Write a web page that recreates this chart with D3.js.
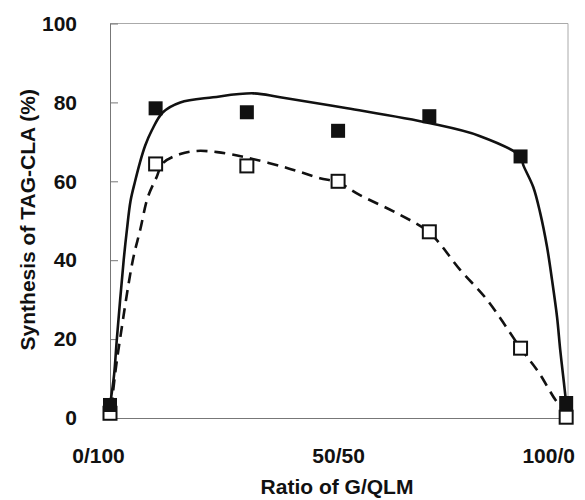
<!DOCTYPE html>
<html>
<head>
<meta charset="utf-8">
<script src="https://cdn.jsdelivr.net/npm/d3@7"></script>
<style>
  html, body { margin: 0; padding: 0; background: #fff; }
  text { font-family: "Liberation Sans", Arial, Helvetica, sans-serif; font-weight: bold; fill: #111; }
</style>
</head>
<body>
<svg id="chart" width="585" height="500"></svg>
<script>
// ---- data ----
const gPercent = [0, 10, 30, 50, 70, 90, 100];            // G share (%) in G/QLM
const filledValues = [3.3, 78.5, 77.5, 72.8, 76.5, 66.3, 3.8]; // filled squares
const openValues = [1.2, 64.4, 63.9, 60.0, 47.2, 17.7, 0.2];   // open squares

// smooth trend curves
const solidFitX = [0, 0.9, 1.5, 3.0, 3.7, 4.5, 5.5, 6.5, 7.7, 9.2, 11.6, 15.4, 22.6, 31.4, 37.3, 52, 70.2, 81, 90, 90.6, 92.8, 94.3, 95.8, 96.9, 98, 98.7, 99.5, 100];
const solidFitY = [3.3, 11, 20, 40, 47.6, 55, 60, 64.5, 69, 73, 77.5, 80, 81.3, 82.3, 81.3, 78.5, 74.7, 71.5, 66.3, 64.1, 58.5, 52, 43.4, 35, 25.6, 17.2, 9, 3.8];
const dashFitX = [0.3, 1.1, 2.2, 5, 6.6, 8.3, 10.2, 11.6, 15.4, 19, 23.5, 30, 38.8, 46, 50, 54.8, 62.9, 70, 76.8, 82.7, 90, 93.9, 98, 100];
const dashFitY = [2.5, 11, 20, 40, 47.6, 56, 61, 64.6, 66.9, 67.7, 67.4, 66, 63.4, 60.8, 59.7, 56.5, 51.9, 47, 37.5, 29.9, 17.7, 11.7, 4, 1.5];

const xTickValues = [0, 50, 100];
const xTickLabels = ["0/100", "50/50", "100/0"];
const yTickValues = [0, 20, 40, 60, 80, 100];

const xTitle = "Ratio of G/QLM";
const yTitle = "Synthesis of TAG-CLA (%)";

// ---- layout ----
const W = 585, H = 500;
const margin = { left: 110, right: 17, top: 23.5, bottom: 82 };
const svg = d3.select("#chart");

const x = d3.scaleLinear().domain([0, 100.4]).range([margin.left, W - margin.right]);
const y = d3.scaleLinear().domain([0, 100]).range([H - margin.bottom, margin.top]);

// frame
const x0 = x.range()[0], x1 = x.range()[1], y0 = y.range()[0], y1 = y.range()[1];
svg.append("line").attr("x1", x0).attr("x2", x1).attr("y1", y1).attr("y2", y1)
  .attr("stroke", "#aaa").attr("stroke-width", 1);
svg.append("line").attr("x1", x1).attr("x2", x1).attr("y1", y1).attr("y2", y0)
  .attr("stroke", "#aaa").attr("stroke-width", 1);

// y axis (ticks inward)
const yAxis = d3.axisLeft(y).tickValues(yTickValues).tickSize(-8).tickPadding(33).tickSizeOuter(0);
const gy = svg.append("g").attr("transform", `translate(${x0},0)`).call(yAxis);
gy.select(".domain").attr("stroke", "#777").attr("stroke-width", 1);
gy.selectAll(".tick line").attr("stroke", "#777").attr("stroke-width", 1);
gy.selectAll(".tick text").attr("font-size", 21).attr("font-weight", "bold")
  .attr("font-family", "'Liberation Sans', Arial, sans-serif").attr("fill", "#111");

// x axis (no ticks)
const xAxis = d3.axisBottom(x).tickValues(xTickValues).tickSize(0).tickPadding(30)
  .tickFormat((d, i) => xTickLabels[i]);
const gx = svg.append("g").attr("transform", `translate(0,${y0})`).call(xAxis);
gx.select(".domain").attr("stroke", "#777").attr("stroke-width", 1);
gx.selectAll(".tick text").attr("font-size", 21).attr("font-weight", "bold")
  .attr("font-family", "'Liberation Sans', Arial, sans-serif").attr("fill", "#111")
  .attr("dx", (d, i) => i === 0 ? -12 : (i === 2 ? -18 : 0));

// titles
svg.append("text").attr("x", (x0 + x1) / 2 - 2).attr("y", 494)
  .attr("text-anchor", "middle").attr("font-size", 21).text(xTitle);
svg.append("text")
  .attr("transform", `translate(35,${(y0 + y1) / 2 - 1}) rotate(-90)`)
  .attr("text-anchor", "middle").attr("font-size", 21).text(yTitle);

// curves
const line = d3.line().x(d => x(d[0])).y(d => y(d[1])).curve(d3.curveCatmullRom.alpha(0.5));
svg.append("path").datum(d3.zip(solidFitX, solidFitY)).attr("d", line)
  .attr("fill", "none").attr("stroke", "#111").attr("stroke-width", 2.6);
svg.append("path").datum(d3.zip(dashFitX, dashFitY)).attr("d", line)
  .attr("fill", "none").attr("stroke", "#111").attr("stroke-width", 2.6)
  .attr("stroke-dasharray", "11,7");

// markers
const fs = 14, os = 13;
svg.append("g").selectAll("rect").data(d3.zip(gPercent, openValues)).join("rect")
  .attr("x", d => x(d[0]) - os / 2).attr("y", d => y(d[1]) - os / 2)
  .attr("width", os).attr("height", os)
  .attr("fill", "#fff").attr("stroke", "#111").attr("stroke-width", 2);
svg.append("g").selectAll("rect").data(d3.zip(gPercent, filledValues)).join("rect")
  .attr("x", d => x(d[0]) - fs / 2).attr("y", d => y(d[1]) - fs / 2)
  .attr("width", fs).attr("height", fs)
  .attr("fill", "#111");
</script>
</body>
</html>
